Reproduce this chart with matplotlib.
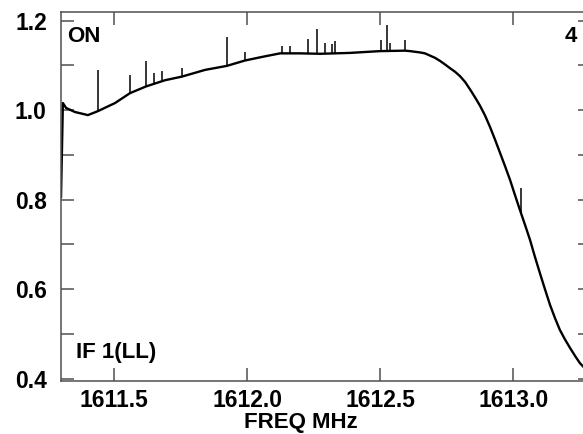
import matplotlib
matplotlib.use('Agg')
import matplotlib.pyplot as plt
from matplotlib.ticker import MultipleLocator

# espectro (frecuencia en MHz, intensidad relativa)
freq = [1611.301, 1611.308, 1611.320, 1611.353, 1611.402, 1611.440, 1611.504,
        1611.560, 1611.620, 1611.692, 1611.755, 1611.842, 1611.924, 1611.992,
        1612.056, 1612.124, 1612.199, 1612.274, 1612.387, 1612.499, 1612.593,
        1612.612, 1612.650, 1612.668, 1612.687, 1612.706, 1612.725, 1612.744,
        1612.762, 1612.781, 1612.800, 1612.819, 1612.837, 1612.856, 1612.875,
        1612.894, 1612.913, 1612.931, 1612.950, 1612.969, 1612.988, 1613.006,
        1613.025, 1613.044, 1613.063, 1613.081, 1613.100, 1613.119, 1613.138,
        1613.157, 1613.175, 1613.194, 1613.213, 1613.232, 1613.250, 1613.269,
        1613.292]
inten = [0.806, 1.016, 1.005, 0.996, 0.989, 0.998, 1.016,
         1.038, 1.053, 1.067, 1.075, 1.090, 1.099, 1.111,
         1.119, 1.127, 1.127, 1.126, 1.128, 1.132, 1.133,
         1.132, 1.129, 1.127, 1.122, 1.117, 1.110, 1.102,
         1.094, 1.086, 1.076, 1.063, 1.047, 1.029, 1.010,
         0.988, 0.962, 0.935, 0.905, 0.875, 0.844, 0.811,
         0.777, 0.744, 0.710, 0.673, 0.636, 0.600, 0.565,
         0.535, 0.509, 0.488, 0.469, 0.451, 0.435, 0.423,
         0.410]

# picos angostos (interferencias)
spike_freq = [1611.440, 1611.560, 1611.620, 1611.650, 1611.680, 1611.755,
              1611.924, 1611.992, 1612.131, 1612.161, 1612.229, 1612.263,
              1612.293, 1612.318, 1612.330, 1612.503, 1612.526, 1612.537,
              1612.593, 1613.029]
spike_base = [0.998, 1.038, 1.053, 1.058, 1.064, 1.075,
              1.099, 1.111, 1.127, 1.127, 1.127, 1.127,
              1.126, 1.126, 1.126, 1.132, 1.132, 1.132,
              1.133, 0.770]
spike_top = [1.090, 1.079, 1.110, 1.084, 1.088, 1.094,
             1.163, 1.130, 1.143, 1.143, 1.159, 1.181,
             1.150, 1.148, 1.155, 1.157, 1.190, 1.150,
             1.157, 0.826]

W, H = 583, 434
fig = plt.figure(figsize=(W/100, H/100), dpi=100)
ax = fig.add_axes([60.7/W, 1-380.7/H, (591-60.7)/W, (380.7-12)/H])

ax.plot(freq, inten, color='black', lw=1.7, solid_joinstyle='round')
ax.vlines(spike_freq, spike_base, spike_top, color='black', lw=1.1)

ax.set_xlim(1611.2998, 1613.292)
ax.set_ylim(0.3955, 1.2194)

# ejes y marcas
gris = '#505050'
for s in ax.spines.values():
    s.set_color(gris)
    s.set_linewidth(1.1)
ax.xaxis.set_major_locator(MultipleLocator(0.5))
ax.yaxis.set_major_locator(MultipleLocator(0.2))
ax.yaxis.set_minor_locator(MultipleLocator(0.1))
ax.xaxis.set_major_formatter(plt.FormatStrFormatter('%.1f'))
ax.yaxis.set_major_formatter(plt.FormatStrFormatter('%.1f'))
ax.tick_params(which='both', direction='in', length=9.4, width=1.1, color=gris,
               top=True, right=True, labelsize=16.5)
ax.tick_params(axis='x', pad=6)
ax.tick_params(axis='y', pad=10)
for lab in ax.get_xticklabels() + ax.get_yticklabels():
    lab.set_fontweight('bold')
    lab.set_family('Liberation Sans')

# textos
fuente = dict(fontsize=16, fontweight='bold', family='Liberation Sans', va='baseline')
fig.text(66.7/W, 1-41.5/H, 'ON', ha='left', **fuente)
fig.text(576.7/W, 1-41.5/H, '4', ha='right', **fuente)
fig.text(76/W, 1-358/H, 'IF 1(LL)', ha='left', **fuente)
fig.text(301/W, 1-428/H, 'FREQ MHz', ha='center', **fuente)

fig.savefig('out.png', dpi=100)
